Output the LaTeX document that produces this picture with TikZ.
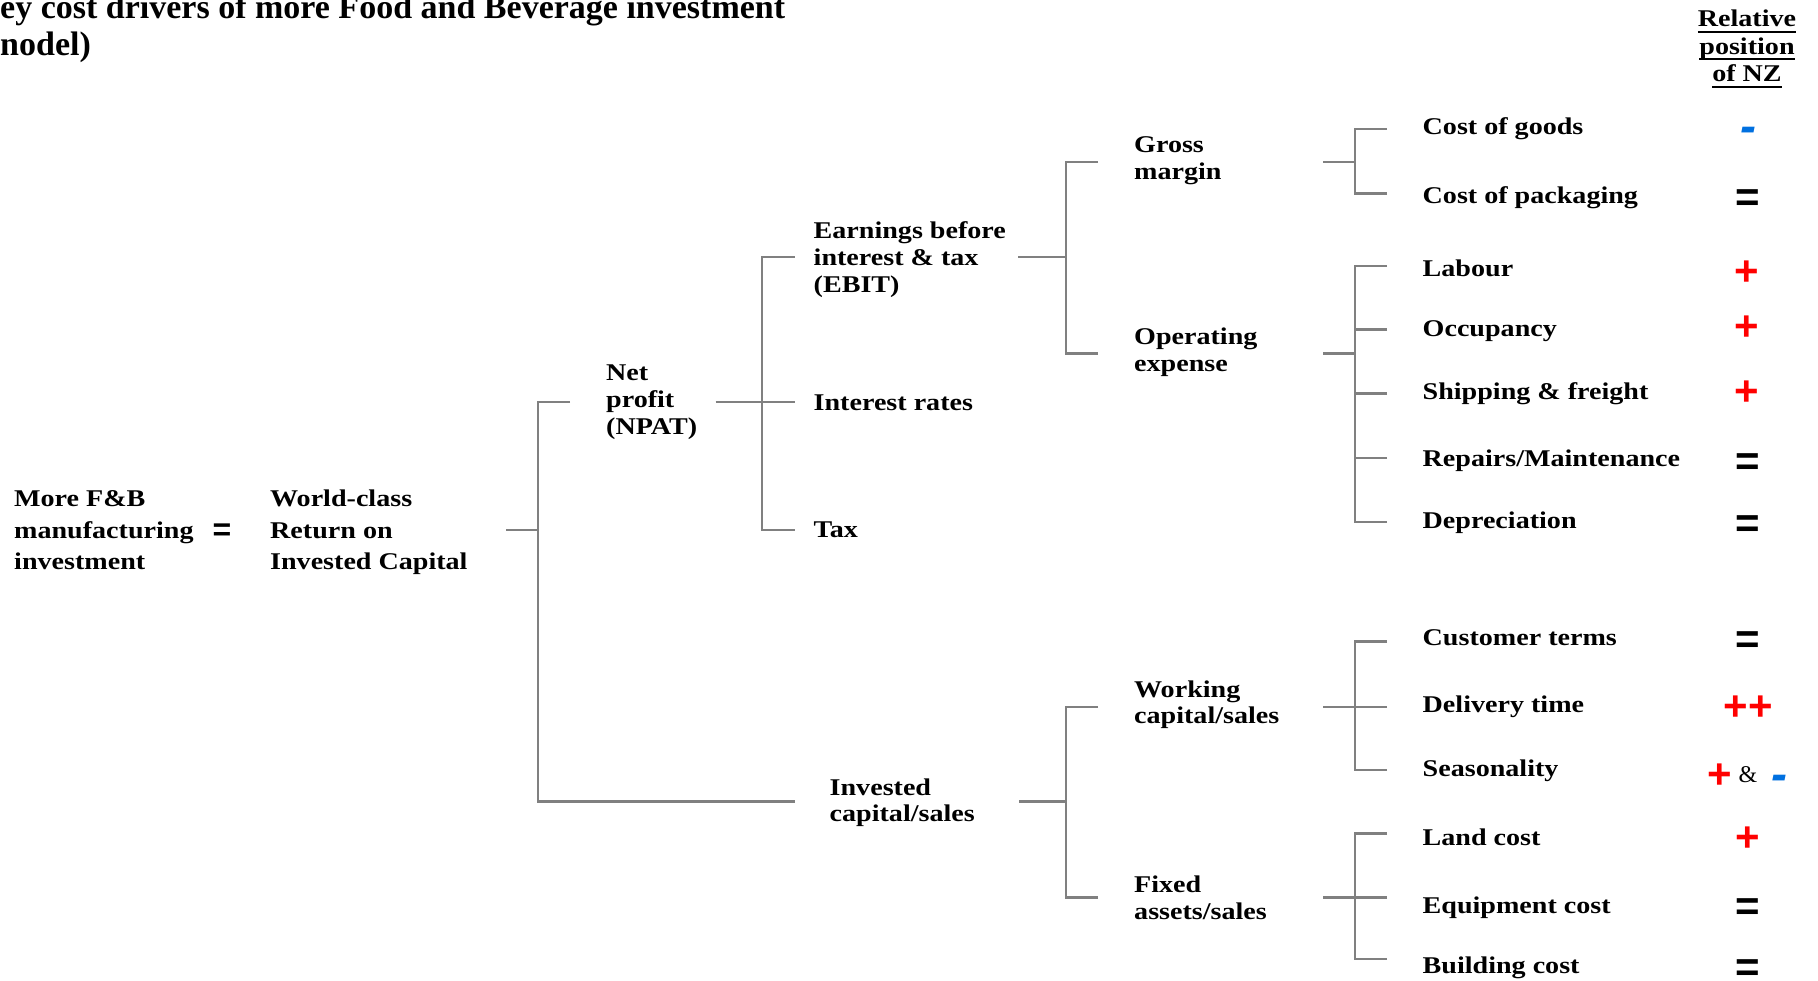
\documentclass[tikz,border=0pt]{standalone}
\usepackage{fontspec}
\setmainfont{Liberation Serif}[FakeStretch=1.17]
\newfontfamily\titlefont{Liberation Serif}
\newfontfamily\signfont{Liberation Sans}
\newfontfamily\ampfont{Liberation Serif}
\definecolor{linegray}{RGB}{128,128,128}
\definecolor{negblue}{RGB}{0,112,224}
\definecolor{posred}{RGB}{255,0,0}
\newcommand\mlines[1]{\begin{tabular}[t]{@{}l@{}}#1\end{tabular}}
\newsavebox\hdrbox
\newcommand\hdrline[1]{\sbox\hdrbox{#1}\rlap{\rule[-6pt]{\wd\hdrbox}{2pt}}\usebox\hdrbox}
\tikzset{
  conn/.style={draw=linegray, line width=2.3pt},
  txt/.style={inner sep=0pt, anchor=base west, font=\bfseries\fontsize{24}{26.7}\selectfont},
  txtwide/.style={txt, font=\bfseries\fontsize{24}{31.5}\selectfont},
  titletxt/.style={inner sep=0pt, anchor=base west, font=\titlefont\bfseries\fontsize{34}{36}\selectfont},
  signtxt/.style={inner sep=0pt, anchor=base, font=\signfont\bfseries\fontsize{42}{42}\selectfont},
  plus/.style={signtxt, text=posred},
  eqsign/.style={signtxt, text=black},
  minus/.style={inner sep=0pt, anchor=center, font=\signfont\bfseries\itshape\fontsize{48}{48}\selectfont, text=negblue},
  amp/.style={inner sep=0pt, anchor=center, font=\ampfont\fontsize{24}{24}\selectfont},
}
\begin{document}
\begin{tikzpicture}[x=1pt,y=-1pt]
\path[use as bounding box, fill=white] (0,0) rectangle (1818,981);

% title (cut by the page edge)
\node[titletxt] (title1) at (0,19) {ey cost drivers of more Food and Beverage investment};
\node[titletxt] (title2) at (0,56) {nodel)};

% header
\node[txt, anchor=base, font=\bfseries\fontsize{24}{27.5}\selectfont] (hdr) at (1747,27)
  {\begin{tabular}[t]{@{}c@{}}\hdrline{Relative}\\\hdrline{position}\\\hdrline{of NZ}\end{tabular}};

% left
\node[txtwide] (more) at (14,506.5) {\mlines{More F\&B\\manufacturing\\investment}};
\node[inner sep=0pt, anchor=center, font=\signfont\bfseries\fontsize{32}{32}\selectfont] (eq) at (222,532) {=};
\node[txtwide] (roic) at (270,506.5) {\mlines{World-class\\Return on\\Invested Capital}};

% level 2
\node[txt] (np) at (606,381) {\mlines{Net\\profit\\(NPAT)}};
\node[txt] (ic) at (829.5,795) {\mlines{Invested\\capital/sales}};

% level 3
\node[txt] (ebit) at (813.5,239) {\mlines{Earnings before\\interest \& tax\\(EBIT)}};
\node[txt] (ir) at (813.5,410.5) {Interest rates};
\node[txt] (tax) at (813.5,537) {Tax};

% level 4
\node[txt] (gm) at (1134,152.7) {\mlines{Gross\\margin}};
\node[txt] (oe) at (1134,345) {\mlines{Operating\\expense}};
\node[txt] (wc) at (1134,697) {\mlines{Working\\capital/sales}};
\node[txt] (fa) at (1134,892.5) {\mlines{Fixed\\assets/sales}};

% leaves
\node[txt] (cog) at (1422.5,135) {Cost of goods};
\node[txt] (cop) at (1422.5,204) {Cost of packaging};
\node[txt] (lab) at (1422.5,276.5) {Labour};
\node[txt] (occ) at (1422.5,337) {Occupancy};
\node[txt] (ship) at (1422.5,400) {Shipping \& freight};
\node[txt] (rep) at (1422.5,466.5) {Repairs/Maintenance};
\node[txt] (dep) at (1422.5,528) {Depreciation};
\node[txt] (cust) at (1422.5,645) {Customer terms};
\node[txt] (del) at (1422.5,712.5) {Delivery time};
\node[txt] (sea) at (1422.5,776.5) {Seasonality};
\node[txt] (land) at (1422.5,845) {Land cost};
\node[txt] (equ) at (1422.5,913) {Equipment cost};
\node[txt] (bld) at (1422.5,973) {Building cost};

% signs (baseline placed, glyph boxes smashed)
\node[minus] (s-cog) at (1748.5,135) {-};
\node[eqsign] (s-cop) at (1748,212) {\smash{=}};
\node[plus] (s-lab) at (1747,286) {\smash{+}};
\node[plus] (s-occ) at (1747,341) {\smash{+}};
\node[plus] (s-ship) at (1747,406) {\smash{+}};
\node[eqsign] (s-rep) at (1748,475) {\smash{=}};
\node[eqsign] (s-dep) at (1748,537) {\smash{=}};
\node[eqsign] (s-cust) at (1748,653) {\smash{=}};
\node[plus] (s-del) at (1748,720) {\smash{++}};
\node[plus] (s-sea1) at (1720,788) {\smash{+}};
\node[amp] (s-sea2) at (1748,775) {\&};
\node[minus] (s-sea3) at (1779,783) {-};
\node[plus] (s-land) at (1748,851) {\smash{+}};
\node[eqsign] (s-equ) at (1748,920) {\smash{=}};
\node[eqsign] (s-bld) at (1748,981) {\smash{=}};

% connector points
\coordinate (roic-out) at (506,530);   \coordinate (b0) at (538,530);
\coordinate (np-in) at (570,402);      \coordinate (ic-in) at (794.5,801.5);
\coordinate (np-out) at (715.5,402);   \coordinate (b1) at (762,402);
\coordinate (ebit-in) at (794.5,257);  \coordinate (ir-in) at (794.5,402);
\coordinate (tax-in) at (794.5,530);
\coordinate (ebit-out) at (1018,257);  \coordinate (b2) at (1066,257);
\coordinate (gm-in) at (1098,162);     \coordinate (oe-in) at (1098,353.5);
\coordinate (gm-out) at (1323,162);    \coordinate (b3) at (1355,162);
\coordinate (cog-in) at (1387,129);    \coordinate (cop-in) at (1387,193.5);
\coordinate (oe-out) at (1323,353.5);  \coordinate (b4) at (1355,353.5);
\coordinate (lab-in) at (1387,266);    \coordinate (occ-in) at (1387,329.5);
\coordinate (ship-in) at (1387,393.5); \coordinate (rep-in) at (1387,458);
\coordinate (dep-in) at (1387,522);
\coordinate (ic-out) at (1019,801.5);  \coordinate (b5) at (1066,801.5);
\coordinate (wc-in) at (1098,707);     \coordinate (fa-in) at (1098,897.5);
\coordinate (wc-out) at (1323,707);    \coordinate (b6) at (1355,707);
\coordinate (cust-in) at (1387,641.5); \coordinate (del-in) at (1387,707);
\coordinate (sea-in) at (1387,770);
\coordinate (fa-out) at (1323,897.5);  \coordinate (b7) at (1355,897.5);
\coordinate (land-in) at (1387,833.5); \coordinate (equ-in) at (1387,897.5);
\coordinate (bld-in) at (1387,959);

% connectors
\draw[conn] (roic-out) -- (b0);
\draw[conn] (np-in) -| (b0);
\draw[conn] (ic-in) -| (b0);

\draw[conn] (np-out) -- (b1);
\draw[conn] (ebit-in) -| (b1);
\draw[conn] (ir-in) -- (b1);
\draw[conn] (tax-in) -| (b1);

\draw[conn] (ebit-out) -- (b2);
\draw[conn] (gm-in) -| (b2);
\draw[conn] (oe-in) -| (b2);

\draw[conn] (gm-out) -- (b3);
\draw[conn] (cog-in) -| (b3);
\draw[conn] (cop-in) -| (b3);

\draw[conn] (oe-out) -- (b4);
\draw[conn] (lab-in) -| (b4);
\draw[conn] (occ-in) -| (b4);
\draw[conn] (ship-in) -| (b4);
\draw[conn] (rep-in) -| (b4);
\draw[conn] (dep-in) -| (b4);

\draw[conn] (ic-out) -- (b5);
\draw[conn] (wc-in) -| (b5);
\draw[conn] (fa-in) -| (b5);

\draw[conn] (wc-out) -- (b6);
\draw[conn] (cust-in) -| (b6);
\draw[conn] (del-in) -| (b6);
\draw[conn] (sea-in) -| (b6);

\draw[conn] (fa-out) -- (b7);
\draw[conn] (land-in) -| (b7);
\draw[conn] (equ-in) -| (b7);
\draw[conn] (bld-in) -| (b7);
\end{tikzpicture}
\end{document}
